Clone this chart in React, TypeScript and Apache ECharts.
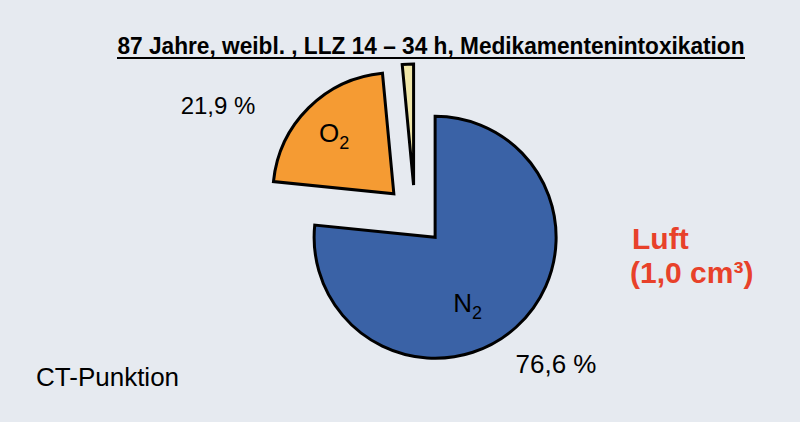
import React, { useEffect, useRef } from "react";
import * as echarts from "echarts";

const gases = ["N2", "O2", "Rest"];
const shares = [76.6, 21.9, 1.5];
const sliceColors = ["#3A62A6", "#F59B33", "#EFE6A8"];
const titleText = "87 Jahre, weibl. , LLZ 14 – 34 h, Medikamentenintoxikation";
const sideLines = ["Luft", "(1,0 cm³)"];
const footText = "CT-Punktion";

const fmt = (v: number) => v.toFixed(1).replace(".", ",") + " %";

export default function App() {
  const ref = useRef<HTMLDivElement>(null);
  useEffect(() => {
    if (!ref.current) return;
    const chart = echarts.init(ref.current, undefined, { renderer: "svg" });
    const font = "'Liberation Sans', Arial, Helvetica, sans-serif";
    chart.setOption({
      animation: false,
      backgroundColor: "#E6EAF0",
      textStyle: { fontFamily: font },
      series: [
        {
          type: "pie",
          center: [415, 215],
          radius: [0, 121],
          startAngle: 90,
          clockwise: true,
          selectedMode: "multiple",
          selectedOffset: 30,
          emphasis: { disabled: true },
          itemStyle: { borderColor: "#000", borderWidth: 3, borderJoin: "miter" },
          label: {
            show: true,
            position: "inside",
            formatter: (p: any) =>
              p.name === "Rest" ? "" : `{b|${p.name.charAt(0)}}{s|${p.name.slice(1)}}`,
            rich: {
              b: { fontSize: 26, color: "#000", fontFamily: font, lineHeight: 30, verticalAlign: "bottom" },
              s: { fontSize: 18, color: "#000", fontFamily: font, lineHeight: 30, verticalAlign: "bottom", padding: [0, 0, -6, 0] },
            },
          },
          labelLine: { show: false },
          labelLayout: (params: any) => {
            if (params.dataIndex === 0) return { dx: -10, dy: 17 };
            if (params.dataIndex === 1) return { dx: -15, dy: -18 };
            return {};
          },
          data: gases.map((g, i) => ({
            name: g,
            value: shares[i],
            selected: true,
            itemStyle: { color: sliceColors[i] },
          })),
        },
      ],
      graphic: [
        {
          type: "text",
          x: 431,
          y: 46,
          scaleX: 0.945,
          style: {
            x: 0,
            y: 0,
            text: titleText,
            font: `bold 24px ${font}`,
            fill: "#000",
            align: "center",
            verticalAlign: "middle",
          },
        },
        {
          type: "line",
          shape: { x1: 117, y1: 58, x2: 745, y2: 58 },
          style: { stroke: "#000", lineWidth: 2 },
        },
        {
          type: "text",
          style: { x: 218, y: 105, text: fmt(shares[1]), font: `24px ${font}`, fill: "#000", align: "center", verticalAlign: "middle" },
        },
        {
          type: "text",
          style: { x: 556, y: 364, text: fmt(shares[0]), font: `26px ${font}`, fill: "#000", align: "center", verticalAlign: "middle" },
        },
        {
          type: "text",
          style: { x: 632, y: 238, text: sideLines[0], font: `bold 30px ${font}`, fill: "#E8412A", align: "left", verticalAlign: "middle" },
        },
        {
          type: "text",
          style: { x: 630, y: 272, text: sideLines[1], font: `bold 30px ${font}`, fill: "#E8412A", align: "left", verticalAlign: "middle" },
        },
        {
          type: "text",
          style: { x: 36, y: 377, text: footText, font: `26px ${font}`, fill: "#000", align: "left", verticalAlign: "middle" },
        },
      ],
    });
    return () => chart.dispose();
  }, []);
  return <div ref={ref} style={{ position: "absolute", left: 0, top: 0, width: 800, height: 422 }} />;
}
